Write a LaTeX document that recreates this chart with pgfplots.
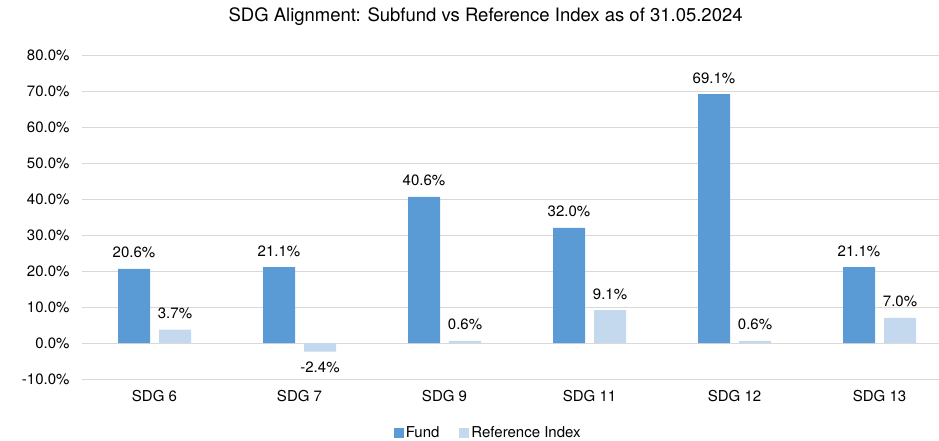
\documentclass[border=0pt]{standalone}
\usepackage{fontspec}
\setmainfont{TeX Gyre Heros}
\usepackage{pgfplots}
\pgfplotsset{compat=1.18}
\definecolor{fund}{HTML}{5B9BD5}
\definecolor{refidx}{HTML}{C5D9EE}
\definecolor{gridc}{HTML}{D9D9D9}
\begin{document}
\begin{tikzpicture}
\useasboundingbox (0,0) rectangle (939pt,-441pt);
\begin{axis}[
  at={(82pt,-379pt)}, anchor=south west,
  x=145pt, y=3.6pt,
  xmin=-0.5, xmax=5.41, ymin=-10, ymax=80,
  axis line style={draw=none},
  clip=false,
  font=\fontsize{15}{18}\selectfont,
  /pgf/number format/assume math mode=true,
  ymajorgrids, grid style={gridc, line width=0.9pt},
  major tick length=0pt,
  ytick={-10,0,...,80},
  yticklabel={\pgfmathprintnumber[fixed,fixed zerofill,precision=1]{\tick}\%},
  yticklabel style={xshift=-9pt},
  xtick={0,...,5},
  xticklabels={SDG 6,SDG 7,SDG 9,SDG 11,SDG 12,SDG 13},
  xticklabel style={yshift=-8pt},
  title={SDG Alignment: Subfund vs Reference Index as of 31.05.2024},
  title style={at={(0.471,1)}, anchor=center, yshift=32pt, font=\fontsize{18.5}{22}\selectfont},
  nodes near coords={\pgfmathprintnumber[fixed,fixed zerofill,precision=1]{\pgfplotspointmeta}\%},
  every node near coord/.append style={font=\fontsize{15}{18}\selectfont, inner sep=10.5pt, text=black},
  legend style={at={(0.474,-0.167)}, anchor=center, draw=none, fill=none, legend columns=2,
    font=\fontsize{15}{18}\selectfont,
    /tikz/every even column/.append style={column sep=18pt},
    nodes={inner xsep=2pt}},
]
\addplot[ybar, fill=fund, draw=none, bar width=32pt, bar shift=-20.5pt,
  every node near coord/.append style={xshift=-20.5pt},
  legend image code/.code={\fill[fund] (0pt,-5pt) rectangle (10pt,5pt);}]
  coordinates {(0,20.6) (1,21.1) (2,40.6) (3,32.0) (4,69.1) (5,21.1)};
\addlegendentry{Fund}
\addplot[ybar, fill=refidx, draw=none, bar width=32pt, bar shift=20.5pt,
  every node near coord/.append style={xshift=20.5pt},
  legend image code/.code={\fill[refidx] (0pt,-5pt) rectangle (10pt,5pt);}]
  coordinates {(0,3.7) (1,-2.4) (2,0.6) (3,9.1) (4,0.6) (5,7.0)};
\addlegendentry{Reference Index}
\end{axis}
\end{tikzpicture}
\end{document}
